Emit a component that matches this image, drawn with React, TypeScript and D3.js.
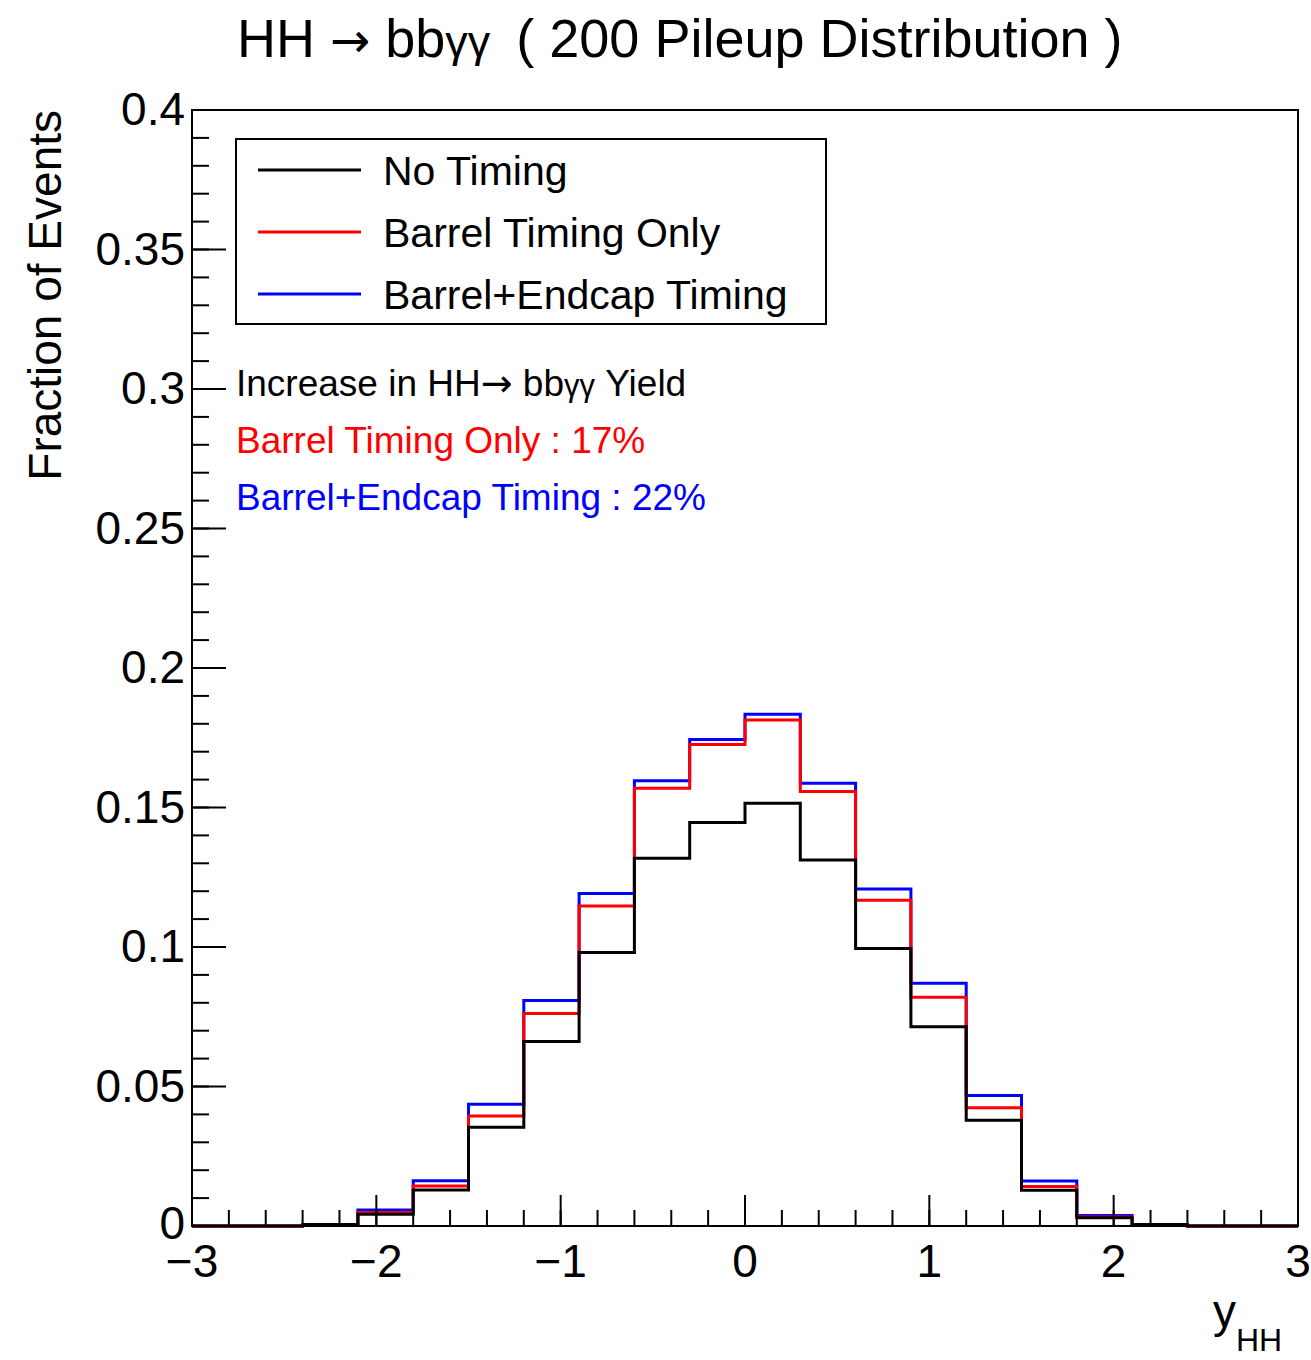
import React from 'react'
import * as d3 from 'd3'

// bin edges of y_HH (20 bins of 0.3)
const binEdges = [-3, -2.7, -2.4, -2.1, -1.8, -1.5, -1.2, -0.9, -0.6, -0.3, 0, 0.3, 0.6, 0.9, 1.2, 1.5, 1.8, 2.1, 2.4, 2.7, 3]

const noTiming = [0, 0, 0.0005, 0.0042, 0.0129, 0.0354, 0.0661, 0.098, 0.1318, 0.1446, 0.1515, 0.1312, 0.0995, 0.0714, 0.0379, 0.0128, 0.003, 0.0005, 0, 0]
const barrelOnly = [0, 0, 0.0003, 0.0048, 0.0143, 0.0394, 0.0762, 0.1147, 0.1569, 0.1726, 0.1814, 0.1557, 0.1168, 0.082, 0.0424, 0.0142, 0.0032, 0.0004, 0, 0]
const barrelEndcap = [0, 0, 0.0003, 0.0057, 0.0162, 0.0436, 0.0808, 0.1192, 0.1596, 0.1744, 0.1834, 0.1587, 0.1208, 0.087, 0.0468, 0.0161, 0.0038, 0.0004, 0, 0]

const xTickLabels = ['\u22123', '\u22122', '\u22121', '0', '1', '2', '3']
const yTickLabels = ['0', '0.05', '0.1', '0.15', '0.2', '0.25', '0.3', '0.35', '0.4']

const legendNames = ['No Timing', 'Barrel Timing Only', 'Barrel+Endcap Timing']
const seriesColors = ['#000000', '#ff0000', '#0000ff']

const font = '"Liberation Sans", Arial, Helvetica, sans-serif'
const arrowFont = '"DejaVu Sans", sans-serif'

const W = 1311
const H = 1360
const frame = { left: 192, right: 1298, top: 110, bottom: 1226 }

const App = () => {
  const x = d3.scaleLinear().domain([-3, 3]).range([frame.left, frame.right])
  const y = d3.scaleLinear().domain([0, 0.4]).range([frame.bottom, frame.top])

  // step outline for a histogram, like ROOT's HIST option
  const histLine = (vals: number[]) => {
    const pts: [number, number][] = []
    vals.forEach((v, i) => {
      pts.push([x(binEdges[i]), y(v)])
      pts.push([x(binEdges[i + 1]), y(v)])
    })
    return d3.line()(pts)
  }

  const series = [noTiming, barrelOnly, barrelEndcap]

  const xMajor = d3.range(-3, 3.001, 1)
  const xMinor = d3.range(-3, 3.001, 0.2)
  const yMajor = d3.range(0, 0.4001, 0.05)
  const yMinor = d3.range(0, 0.4001, 0.01)

  return (
    <svg width={W} height={H} style={{ position: 'absolute', left: 0, top: 0, background: '#fff' }} fontFamily={font}>
      <rect width={W} height={H} fill="#fff" />

      {/* title */}
      <text x={237} y={57} fontSize={54} fill="#000">
        HH <tspan fontFamily={arrowFont} fontSize={48}>→</tspan> bb<tspan fontSize={45}>γγ</tspan>
        <tspan dx={26}>( 200 Pileup Distribution )</tspan>
      </text>

      {/* histograms: blue, red, then black on top */}
      {[2, 1, 0].map((k) => (
        <path key={k} d={histLine(series[k]) || ''} fill="none" stroke={seriesColors[k]} strokeWidth={3} />
      ))}

      {/* frame */}
      <rect
        x={frame.left}
        y={frame.top}
        width={frame.right - frame.left}
        height={frame.bottom - frame.top}
        fill="none"
        stroke="#000"
        strokeWidth={2}
      />

      {/* x ticks */}
      {xMinor.map((t, i) => (
        <line key={'xm' + i} x1={x(t)} x2={x(t)} y1={frame.bottom} y2={frame.bottom - 16} stroke="#000" strokeWidth={2} />
      ))}
      {xMajor.map((t, i) => (
        <line key={'xM' + i} x1={x(t)} x2={x(t)} y1={frame.bottom} y2={frame.bottom - 31} stroke="#000" strokeWidth={2} />
      ))}
      {xMajor.map((t, i) => (
        <text key={'xl' + i} x={x(t)} y={1277} fontSize={46} textAnchor="middle" fill="#000">
          {xTickLabels[i]}
        </text>
      ))}

      {/* y ticks */}
      {yMinor.map((t, i) => (
        <line key={'ym' + i} x1={frame.left} x2={frame.left + 17} y1={y(t)} y2={y(t)} stroke="#000" strokeWidth={2} />
      ))}
      {yMajor.map((t, i) => (
        <line key={'yM' + i} x1={frame.left} x2={frame.left + 34} y1={y(t)} y2={y(t)} stroke="#000" strokeWidth={2} />
      ))}
      {yMajor.map((t, i) => (
        <text key={'yl' + i} x={185} y={y(t) + (i === 0 ? 13 : 15)} fontSize={46} textAnchor="end" fill="#000">
          {yTickLabels[i]}
        </text>
      ))}

      {/* axis titles */}
      <text transform={`translate(61, ${frame.top}) rotate(-90)`} fontSize={46} textAnchor="end" fill="#000">
        Fraction of Events
      </text>
      <text x={1213} y={1327} fontSize={46} fill="#000">
        y<tspan fontSize={32} dy={24}>HH</tspan>
      </text>

      {/* legend */}
      <rect x={236} y={139} width={590} height={185} fill="#fff" stroke="#000" strokeWidth={2} />
      {legendNames.map((name, i) => {
        const cy = 170 + i * 62
        return (
          <g key={name}>
            <line x1={258} x2={361} y1={cy} y2={cy} stroke={seriesColors[i]} strokeWidth={3} />
            <text x={383} y={cy + 15} fontSize={41} fill="#000">
              {name}
            </text>
          </g>
        )
      })}

      {/* yield annotations */}
      <text x={236} y={396} fontSize={37} fill="#000">
        Increase in HH<tspan fontFamily={arrowFont} fontSize={38}>→</tspan> bb<tspan fontSize={31}>γγ</tspan> Yield
      </text>
      <text x={236} y={453} fontSize={37} fill="#ff0000">
        Barrel Timing Only : 17%
      </text>
      <text x={236} y={510} fontSize={37} fill="#0000ff">
        Barrel+Endcap Timing : 22%
      </text>
    </svg>
  )
}

export default App
